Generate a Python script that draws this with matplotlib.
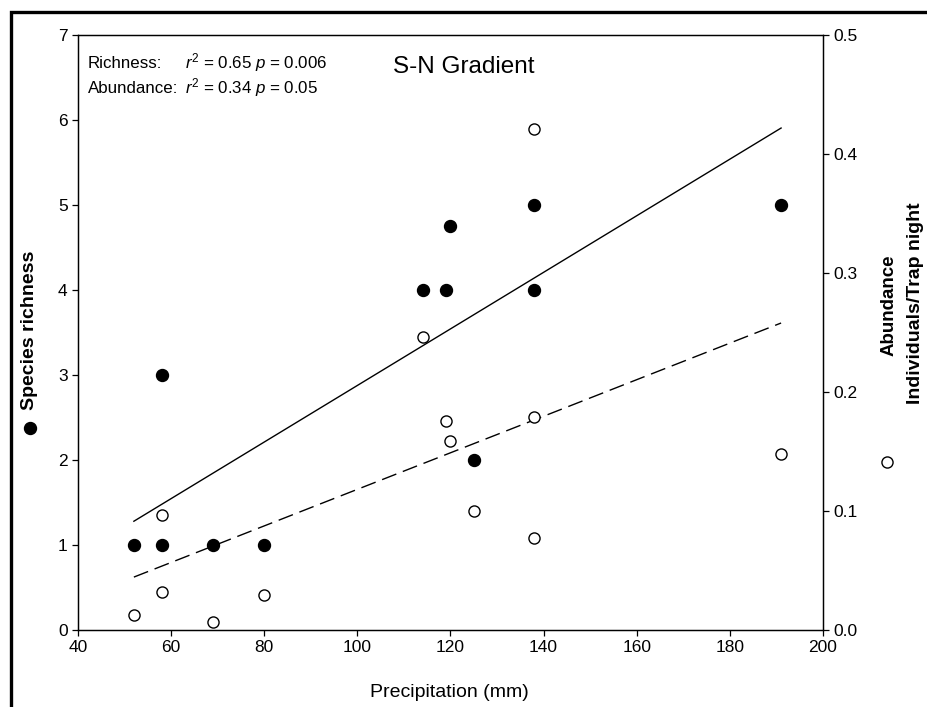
import numpy as np
import matplotlib
matplotlib.use("Agg")
import matplotlib.pyplot as plt
from matplotlib.patches import Rectangle
from matplotlib.lines import Line2D

plt.rcParams['font.family'] = ['Liberation Sans', 'DejaVu Sans']
plt.rcParams['mathtext.fontset'] = 'custom'
plt.rcParams['mathtext.rm'] = 'Liberation Sans'
plt.rcParams['mathtext.it'] = 'Liberation Sans:italic'

# richness (filled circles, left axis)
rich_x = [52, 58, 58, 69, 80, 114, 119, 120, 125, 138, 138, 191]
rich_y = [1, 3, 1, 1, 1, 4, 4, 4.75, 2, 5, 4, 5]

# abundance (open circles, right axis)
abund_x = [52, 58, 58, 69, 80, 114, 119, 120, 125, 138, 138, 138, 191]
abund_y = [0.013, 0.097, 0.032, 0.007, 0.029, 0.246, 0.176, 0.159, 0.100,
           0.421, 0.179, 0.077, 0.148]

# regression lines (intercept, slope)
rich_fit = (-0.451, 0.03328)
abund_fit = (-0.0354, 0.001536)

x_ticks = [40, 60, 80, 100, 120, 140, 160, 180, 200]
left_ticks = [0, 1, 2, 3, 4, 5, 6, 7]
right_ticks = [0.0, 0.1, 0.2, 0.3, 0.4, 0.5]

W, H = 928, 707
fig = plt.figure(figsize=(W / 100, H / 100), dpi=100)
ax = fig.add_axes([78 / W, 1 - 630 / H, (823 - 78) / W, (630 - 35) / H])
ax2 = ax.twinx()

# fitted lines
xr = np.array([min(rich_x), max(rich_x)])
ax.plot(xr, rich_fit[0] + rich_fit[1] * xr, color='black', lw=1.0)
xa = np.array([min(abund_x), max(abund_x)])
ln, = ax2.plot(xa, abund_fit[0] + abund_fit[1] * xa, color='black', lw=1.0)
ln.set_dashes((11, 5))

ax2.plot(abund_x, abund_y, 'o', ms=8, mfc='white', mec='black', mew=1.0,
         clip_on=False, zorder=3)
ax.plot(rich_x, rich_y, 'o', ms=8.6, mfc='black', mec='black',
        clip_on=False, zorder=4)
ax.set_zorder(ax2.get_zorder() + 1)
ax.patch.set_visible(False)

ax.set_xlim(40, 200)
ax.set_ylim(0, 7)
ax2.set_ylim(0, 0.5)
ax.set_xticks(x_ticks)
ax.set_yticks(left_ticks)
ax2.set_yticks(right_ticks)
ax2.set_yticklabels([f'{t:.1f}' for t in right_ticks])

for a in (ax, ax2):
    a.tick_params(direction='out', length=4.5, width=0.9, labelsize=12.5, pad=3)
    for s in a.spines.values():
        s.set_linewidth(0.9)

# axis labels
fig.text(449 / W, 1 - 697 / H, 'Precipitation (mm)', fontsize=14,
         ha='center', va='baseline')
fig.text(30 / W, 1 - 410 / H, 'Species richness', fontsize=14,
         fontweight='bold', rotation=90, ha='center', va='bottom')
fig.text(889 / W, 1 - 305 / H, 'Abundance', fontsize=13.5,
         fontweight='bold', rotation=90, ha='center', va='center')
fig.text(916 / W, 1 - 303 / H, 'Individuals/Trap night', fontsize=14,
         fontweight='bold', rotation=90, ha='center', va='center')
fig.add_artist(Line2D([30 / W], [1 - 428 / H], marker='o', ms=8.6,
                      mfc='black', mec='black', ls='none',
                      transform=fig.transFigure))
fig.add_artist(Line2D([887 / W], [1 - 462 / H], marker='o', ms=8,
                      mfc='white', mec='black', mew=1.0, ls='none',
                      transform=fig.transFigure))

# statistics and title
fig.text(88 / W, 1 - 68 / H, 'Richness:', fontsize=12.2, va='baseline')
fig.text(185 / W, 1 - 68 / H, r'$r^2$ = 0.65 $p$ = 0.006', fontsize=12.2,
         va='baseline')
fig.text(88 / W, 1 - 93 / H, 'Abundance:', fontsize=12.2, va='baseline')
fig.text(185 / W, 1 - 93 / H, r'$r^2$ = 0.34 $p$ = 0.05', fontsize=12.2,
         va='baseline')
fig.text(393 / W, 1 - 73 / H, 'S-N Gradient', fontsize=17.5, va='baseline')

# outer frame
fig.add_artist(Rectangle((11 / W, -0.2), 1.2, 1.2 - 12 / H,
                         transform=fig.transFigure, fill=False,
                         ec='black', lw=2.4))

fig.savefig('out.png', dpi=100)
